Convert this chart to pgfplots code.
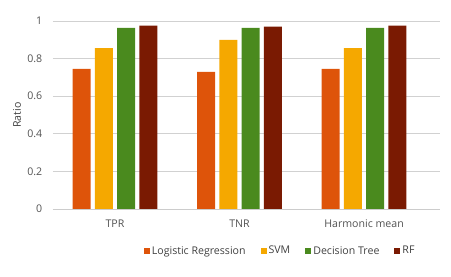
\documentclass[border=0pt]{standalone}
\usepackage{fontspec}
\setmainfont{Open Sans}
\usepackage{pgfplots}
\pgfplotsset{compat=1.18}
\definecolor{cLR}{RGB}{222,84,10}
\definecolor{cSVM}{RGB}{245,168,0}
\definecolor{cDT}{RGB}{74,138,30}
\definecolor{cRF}{RGB}{122,26,2}
\begin{document}
\fontsize{10.6}{12}\selectfont
\begin{tikzpicture}
\begin{axis}[
  scale only axis, width=387pt, height=188pt,
  ybar=4.3pt, bar width=18pt,
  xmin=-0.498, xmax=2.61, ymin=0, ymax=1,
  xtick={0,1,2}, xticklabels={TPR,TNR,Harmonic mean},
  ytick={0,0.2,0.4,0.6,0.8,1},
  yticklabel style={/pgf/number format/fixed, /pgf/number format/precision=1, /pgf/number format/assume math mode=true, xshift=-7pt},
  major tick length=0pt,
  axis x line*=bottom, axis y line*=left,
  y axis line style={draw=none},
  x axis line style={draw=black!20, line width=0.75pt, -},
  ymajorgrids, grid style={draw=black!18, line width=0.75pt},
  tick label style={text=black!68},
  xticklabel style={anchor=center, yshift=-15pt},
  every axis y label/.style={at={(axis description cs:-0.093,0.5)}, rotate=90, anchor=center, text=black!75},
  ylabel={Ratio},
  legend style={at={(axis description cs:0.587,-0.223)}, anchor=center, draw=none, fill=none, legend columns=4, text=black!75,
    /tikz/every even column/.append style={column sep=13pt}},
  every axis plot post/.append style={legend image code/.code={\fill[##1] (0pt,-3pt) rectangle (6pt,3pt);}},
]
\addplot[fill=cLR, draw=none] coordinates {(0,0.745) (1,0.730) (2,0.745)};
\addplot[fill=cSVM, draw=none] coordinates {(0,0.856) (1,0.899) (2,0.856)};
\addplot[fill=cDT, draw=none] coordinates {(0,0.963) (1,0.963) (2,0.963)};
\addplot[fill=cRF, draw=none] coordinates {(0,0.975) (1,0.970) (2,0.975)};
\legend{Logistic Regression, SVM, Decision Tree, RF}
\end{axis}
\pgfresetboundingbox
\path[use as bounding box] ([xshift=-53pt,yshift=-68pt]current axis.south west) rectangle ([xshift=11pt,yshift=21pt]current axis.north east);
\end{tikzpicture}
\end{document}
